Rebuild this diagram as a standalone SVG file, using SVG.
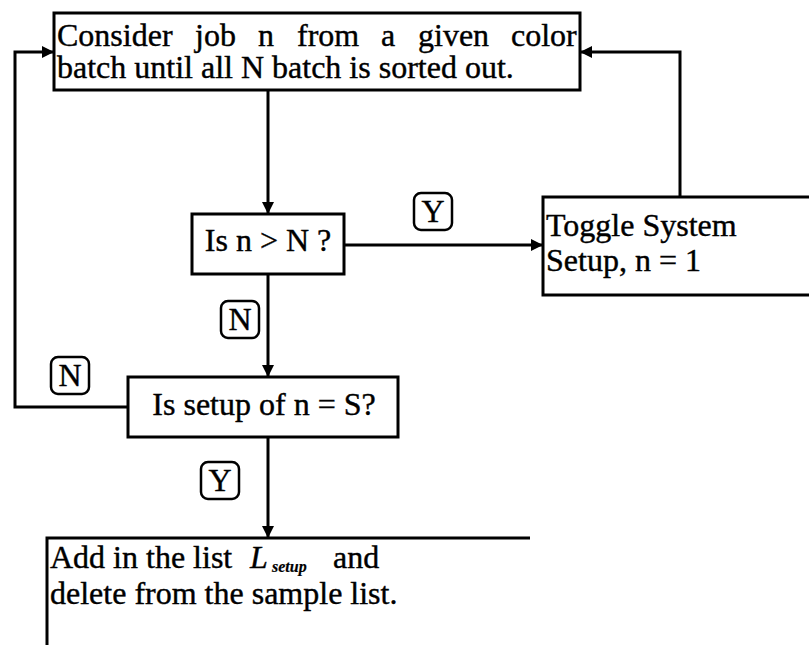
<svg xmlns="http://www.w3.org/2000/svg" width="809" height="645" viewBox="0 0 809 645">
<defs>
<style>
.box{fill:#fff;stroke:#000;stroke-width:3}
.lbl{fill:#fff;stroke:#000;stroke-width:2.5}
.ln{fill:none;stroke:#000;stroke-width:3}
text{font-family:"Liberation Serif","Times New Roman",serif;font-size:32px;fill:#000;stroke:#000;stroke-width:0.4}
.c{text-anchor:middle}
.sub{font-size:16px;font-style:italic;font-weight:bold;stroke-width:0.2}
.it{font-style:italic}
</style>
<marker id="ah" markerWidth="12" markerHeight="12" refX="11" refY="6" orient="auto" markerUnits="userSpaceOnUse">
<path d="M0,0 L12,6 L0,12 Z" fill="#000"/>
</marker>
</defs>
<rect width="809" height="645" fill="#fff"/>
<g id="connectors">
<path class="ln" d="M268,90 V213" marker-end="url(#ah)"/>
<path class="ln" d="M344,245 H542" marker-end="url(#ah)"/>
<path class="ln" d="M680,197 V52 H581" marker-end="url(#ah)"/>
<path class="ln" d="M268,274 V376" marker-end="url(#ah)"/>
<path class="ln" d="M128,407 H15 V52 H53" marker-end="url(#ah)"/>
<path class="ln" d="M268,437 V537" marker-end="url(#ah)"/>
</g>
<g id="start">
<rect class="box" x="54" y="13" width="526" height="77"/>
<text y="46"><tspan x="57">Consider</tspan><tspan x="195">job</tspan><tspan x="258">n</tspan><tspan x="297">from</tspan><tspan x="381">a</tspan><tspan x="418">given</tspan><tspan x="511">color</tspan></text>
<text x="57" y="78">batch until all N batch is sorted out.</text>
</g>
<g id="check-n">
<rect class="box" x="192" y="214" width="152" height="60"/>
<text class="c" x="268" y="251">Is n &gt; N ?</text>
</g>
<g id="toggle">
<rect class="box" x="543" y="197" width="300" height="98"/>
<text x="546" y="236">Toggle System</text>
<text x="546" y="271">Setup, n = 1</text>
</g>
<g id="check-setup">
<rect class="box" x="128" y="377" width="270" height="60"/>
<text class="c" x="264" y="415">Is setup of n = S?</text>
</g>
<g id="add">
<path class="ln" d="M530,538 H47 V650"/>
<text x="50" y="568">Add in the list</text>
<text class="it" x="250" y="568">L</text>
<text class="sub" x="272" y="572">setup</text>
<text x="333" y="568">and</text>
<text x="50" y="604">delete from the sample list.</text>
</g>
<g id="labels">
<rect class="lbl" x="414" y="193" width="38" height="37" rx="7"/>
<text class="c" x="433" y="222">Y</text>
<rect class="lbl" x="221" y="301" width="38" height="37" rx="7"/>
<text class="c" x="240" y="330">N</text>
<rect class="lbl" x="51" y="357" width="38" height="37" rx="7"/>
<text class="c" x="70" y="386">N</text>
<rect class="lbl" x="201" y="462" width="38" height="37" rx="7"/>
<text class="c" x="220" y="491">Y</text>
</g>
</svg>
